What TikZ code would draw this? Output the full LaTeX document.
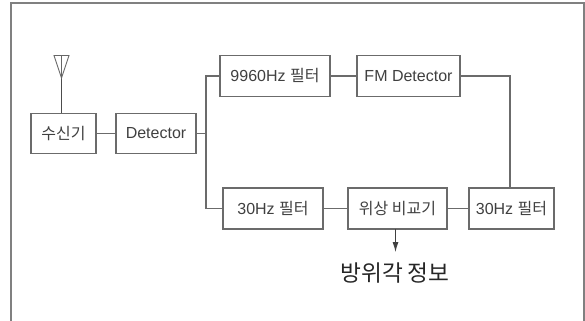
\documentclass[tikz,border=0pt]{standalone}
\usepackage{fontspec}
\setmainfont{Liberation Sans}
\newfontfamily\kr{Noto Sans CJK KR}
\usetikzlibrary{arrows.meta}
\definecolor{ln}{gray}{0.42}
\definecolor{tx}{gray}{0.25}
\tikzset{
  x=0.75pt,y=-0.75pt,
  blk/.style={draw=ln,line width=0.8pt,text=tx,inner sep=0pt,font=\fontsize{12pt}{14pt}\selectfont},
  wire/.style={draw=ln,line width=0.8pt},
  frameline/.style={draw=black!50,line width=1.2pt},
}
\begin{document}
\begin{tikzpicture}
\useasboundingbox (0,0) rectangle (585,321);
\draw[frameline] (11,330) -- (11,3) -- (584,3) -- (584,330);
\clip (0,0) rectangle (585,321);
\node[blk,minimum width=48.75pt,minimum height=30pt] (rx) at (63.5,133.5) {\kr 수신기};
\node[blk,minimum width=60pt,minimum height=30pt] (det) at (156,133.5) {Detector};
\node[blk,minimum width=82.5pt,minimum height=30.75pt] (f9) at (275,76) {9960Hz {\kr 필터}};
\node[blk,minimum width=77.25pt,minimum height=30.75pt] (fm) at (408.5,76) {FM Detector};
\node[blk,minimum width=75pt,minimum height=30.75pt] (f30a) at (273,208.5) {30Hz {\kr 필터}};
\node[blk,minimum width=74.25pt,minimum height=30.75pt] (ph) at (397.5,208.5) {\kr 위상 비교기};
\node[blk,minimum width=63.75pt,minimum height=30.75pt] (f30b) at (511.5,208.5) {30Hz {\kr 필터}};
\node[text=black!85,inner sep=0pt,font=\kr\fontsize{17pt}{19pt}\selectfont] (out) at (395,273) {방위각 정보};
\coordinate (bus) at (206,133.5);
\coordinate (apex) at (61.5,78);
\coordinate (tl) at (54,55.5);
\coordinate (tr) at (69,55.5);
\coordinate (tm) at (61.5,55.5);
\coordinate (arrowstart) at (395.5,229);
\coordinate (arrowend) at (395.5,252);
\draw[wire] (rx) -- (det);
\draw[wire] (det) -- (bus);
\draw[wire] (f9.west) -| (bus) |- (f30a.west);
\draw[wire] (f9) -- (fm);
\draw[wire] (fm.east) -| (510,188);
\draw[wire] (f30a) -- (ph);
\draw[wire] (ph) -- (f30b);
\draw[draw=black!75,line width=0.7pt,-{Latex[length=7.5pt,width=4.5pt]}] (arrowstart) -- (arrowend);
\draw[draw=black!70,line width=0.7pt] (rx.north -| apex) -- (apex);
\draw[draw=black!60,line width=0.6pt] (tl) -- (tr) -- (apex) -- cycle (tm) -- (apex);
\end{tikzpicture}
\end{document}
